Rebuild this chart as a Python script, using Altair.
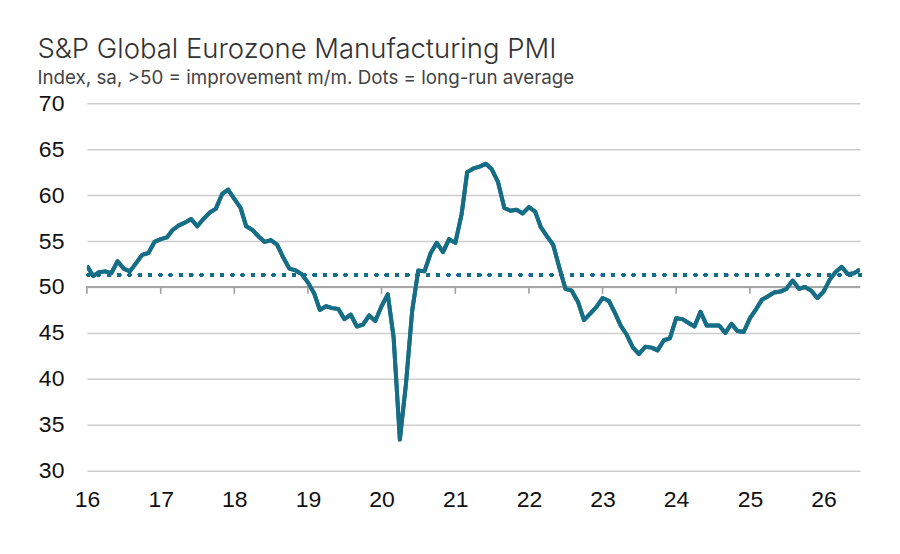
import altair as alt
import pandas as pd

# Eurozone manufacturing PMI, monthly from Jan 2016
pmi = [
    52.3, 51.2, 51.6, 51.7, 51.5, 52.8, 52.0, 51.7, 52.6, 53.5, 53.7, 54.9,
    55.2, 55.4, 56.2, 56.7, 57.0, 57.4, 56.6, 57.4, 58.1, 58.5, 60.1, 60.6,
    59.6, 58.6, 56.6, 56.2, 55.5, 54.9, 55.1, 54.6, 53.2, 52.0, 51.8, 51.4,
    50.5, 49.3, 47.5, 47.9, 47.7, 47.6, 46.5, 47.0, 45.7, 45.9, 46.9, 46.3,
    47.9, 49.2, 44.5, 33.4, 39.4, 47.4, 51.8, 51.7, 53.7, 54.8, 53.8, 55.2,
    54.8, 57.9, 62.5, 62.9, 63.1, 63.4, 62.8, 61.4, 58.6, 58.3, 58.4, 58.0,
    58.7, 58.2, 56.5, 55.5, 54.6, 52.1, 49.8, 49.6, 48.4, 46.4, 47.1, 47.8,
    48.8, 48.5, 47.3, 45.8, 44.8, 43.4, 42.7, 43.5, 43.4, 43.1, 44.2, 44.4,
    46.6, 46.5, 46.1, 45.7, 47.3, 45.8, 45.8, 45.8, 45.0, 46.0, 45.2, 45.1,
    46.6, 47.6, 48.6, 49.0, 49.4, 49.5, 49.8, 50.7, 49.8, 50.0, 49.6, 48.8,
    49.5, 50.8, 51.6, 52.2, 51.4, 51.5, 51.9,
]
months = pd.date_range("2016-01-01", periods=len(pmi), freq="MS")
long_run_avg = 51.3
year_ticks = pd.date_range("2016-01-01", "2026-01-01", freq="YS")

df = pd.DataFrame({"month": months, "pmi": pmi})
ticks_df = pd.DataFrame({"month": year_ticks, "top": 50.0, "bottom": 49.25})

label_font = "Liberation Sans"
teal = "#166d86"

x = alt.X(
    "month:T",
    scale=alt.Scale(domain=[months[0].isoformat(), months[-1].isoformat()]),
    axis=alt.Axis(format="%y", tickCount={"interval": "year", "step": 1}, title=None),
)
y = alt.Y(
    "pmi:Q",
    scale=alt.Scale(domain=[30, 70], nice=False, zero=False),
    axis=alt.Axis(values=list(range(30, 71, 5)), title=None),
)

line = alt.Chart(df).mark_line(
    color=teal, strokeWidth=4, strokeJoin="round", clip=True
).encode(x=x, y=y)

# axis line at 50 with year ticks
axis50 = alt.Chart(df).mark_rule(color="#a6a6a6", strokeWidth=1.5).encode(
    y=alt.datum(50)
)
year_tick = alt.Chart(ticks_df).mark_rule(color="#a0a0a0", strokeWidth=1.6).encode(
    x="month:T", y="top:Q", y2="bottom:Q"
)

avg = alt.Chart(df).mark_rule(
    color=teal, strokeWidth=3.6, strokeDash=[0.1, 10.2], strokeCap="round"
).encode(y=alt.datum(long_run_avg))

chart = alt.layer(line, axis50, year_tick, avg, line).properties(
    width=774,
    height=368,
    padding={"left": 29, "top": 27, "right": 30, "bottom": 10},
    title=alt.TitleParams(
        text="S&P Global Eurozone Manufacturing PMI",
        subtitle="Index, sa, >50 = improvement m/m. Dots = long-run average",
        anchor="start", frame="bounds", font="Inter", fontSize=27.5,
        fontWeight=300, color="#333", subtitleFont="Inter",
        subtitleFontSize=18.8, subtitleColor="#444", subtitlePadding=6,
        offset=4, dx=-1,
    ),
).configure_view(
    stroke=None
).configure_axisY(
    domain=False, ticks=False, grid=True, gridColor="#cdcdcd", gridWidth=1.5,
    labelFont=label_font, labelFontSize=23, labelColor="#111", labelPadding=23,
).configure_axisX(
    domain=False, ticks=False, grid=False, labelFont=label_font,
    labelFontSize=23, labelColor="#111", labelPadding=18, labelFlush=False,
)

chart.save("out.html", embed_options={"renderer": "svg", "actions": False})
